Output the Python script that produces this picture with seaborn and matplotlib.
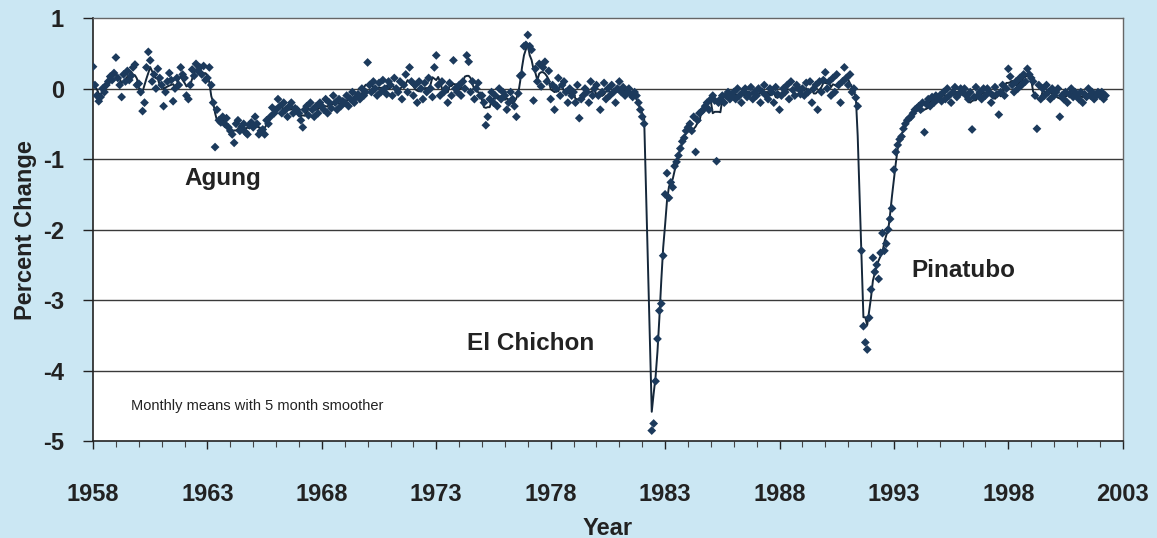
import numpy as np
import pandas as pd
import matplotlib
matplotlib.use("Agg")
import matplotlib.pyplot as plt
import seaborn as sns
from matplotlib.ticker import MultipleLocator

nan = np.nan

# monthly means, percent change, one row per year (Jan..Dec)
pct_1958_1967 = [
    0.31, 0.05, -0.10, -0.18, -0.12, 0.00, -0.05, 0.05, 0.10, 0.17, 0.12, 0.22,
    0.44, 0.15, 0.05, -0.12, 0.20, 0.10, 0.25, 0.12, 0.18, 0.30, 0.34, 0.05,
    0.07, -0.05, -0.32, -0.20, 0.30, 0.52, 0.40, 0.10, 0.20, 0.00, 0.28, 0.15,
    0.05, -0.25, -0.05, 0.10, 0.22, 0.12, -0.18, 0.00, 0.15, 0.05, 0.30, 0.20,
    0.15, -0.10, -0.15, 0.05, 0.27, 0.18, 0.35, 0.25, 0.30, 0.20, 0.32, 0.12,
    0.15, 0.30, 0.05, -0.20, -0.83, -0.30, -0.45, -0.48, -0.40, -0.50, -0.42, -0.55,
    -0.60, -0.65, -0.77, -0.50, -0.45, -0.60, -0.55, -0.50, -0.62, -0.65, -0.52, -0.48,
    -0.55, -0.40, -0.50, -0.65, -0.60, -0.58, -0.65, -0.45, -0.50, -0.40, -0.27, -0.35,
    -0.30, -0.15, -0.25, -0.35, -0.20, -0.30, -0.40, -0.25, -0.20, -0.35, -0.28, -0.30,
    -0.35, -0.45, -0.55, -0.30, -0.25, -0.38, -0.20, -0.30, -0.40, -0.25, -0.35, -0.20,
]
pct_1968_1977 = [
    -0.25, -0.30, -0.15, -0.35, -0.20, -0.28, -0.10, -0.20, -0.30, -0.15, -0.25, -0.18,
    -0.20, -0.10, -0.25, -0.15, -0.05, -0.20, -0.12, -0.08, -0.15, 0.00, -0.10, -0.05,
    0.37, 0.05, -0.05, 0.10, 0.00, -0.10, 0.08, -0.05, 0.12, 0.00, -0.08, 0.10,
    0.05, -0.10, 0.15, 0.00, -0.05, 0.10, -0.15, 0.05, 0.20, -0.05, 0.30, 0.10,
    -0.10, 0.05, -0.20, 0.10, 0.00, -0.15, 0.08, -0.05, 0.15, 0.00, -0.12, 0.30,
    0.47, 0.05, -0.10, 0.10, -0.05, 0.00, -0.20, 0.08, -0.10, 0.40, 0.00, -0.05,
    0.05, -0.10, 0.10, 0.00, 0.47, 0.38, -0.05, 0.10, -0.15, 0.00, 0.08, -0.10,
    -0.10, -0.20, -0.52, -0.40, -0.15, -0.05, -0.20, -0.10, -0.25, 0.00, -0.15, -0.05,
    -0.10, -0.30, -0.20, -0.05, -0.15, -0.25, -0.40, -0.07, 0.18, 0.20, 0.60, 0.62,
    0.76, 0.60, 0.55, -0.17, 0.28, 0.10, 0.35, 0.03, 0.30, 0.38, 0.10, 0.25,
]
pct_1978_1987 = [
    -0.15, 0.05, -0.30, 0.00, 0.15, -0.10, 0.05, 0.10, -0.05, -0.20, 0.00, -0.10,
    -0.05, -0.20, 0.05, -0.42, -0.15, -0.10, 0.00, -0.05, -0.20, 0.10, -0.10, 0.00,
    0.05, -0.10, -0.30, -0.05, 0.08, -0.15, 0.00, -0.10, 0.05, -0.05, -0.20, 0.00,
    0.10, -0.05, 0.02, -0.10, -0.05, 0.00, -0.08, -0.12, -0.05, -0.10, -0.20, -0.30,
    -0.40, -0.50, nan, nan, nan, -4.85, -4.75, -4.15, -3.55, -3.15, -3.05, -2.37,
    -1.50, -1.20, -1.55, -1.33, -1.40, -1.10, -1.04, -0.95, -0.85, -0.75, -0.70, -0.60,
    -0.55, -0.50, -0.60, -0.40, -0.90, -0.45, -0.35, -0.33, -0.30, -0.25, -0.20, -0.30,
    -0.15, -0.10, -0.17, -1.03, -0.20, -0.15, -0.10, -0.20, -0.10, -0.05, -0.15, -0.10,
    -0.05, -0.15, 0.00, -0.10, -0.20, -0.05, 0.00, -0.12, -0.08, 0.02, -0.15, -0.05,
    -0.10, 0.00, -0.20, -0.05, 0.05, -0.10, -0.15, 0.00, -0.05, -0.20, 0.02, -0.08,
]
pct_1988_1997 = [
    -0.30, -0.10, 0.00, -0.05, 0.05, -0.15, 0.10, -0.02, -0.10, 0.05, 0.00, -0.08,
    0.00, -0.10, 0.08, -0.05, 0.10, -0.20, 0.00, 0.05, -0.30, 0.10, -0.05, 0.12,
    0.23, 0.00, 0.10, -0.10, 0.15, -0.05, 0.20, 0.05, -0.20, 0.10, 0.30, 0.15,
    0.05, 0.20, -0.05, 0.00, -0.13, -0.25, nan, -2.30, -3.37, -3.60, -3.70, -3.25,
    -2.85, -2.40, -2.60, -2.50, -2.70, -2.33, -2.05, -2.30, -2.20, -2.00, -1.85, -1.70,
    -1.15, -0.90, -0.80, -0.72, -0.68, -0.57, -0.50, -0.45, -0.42, -0.40, -0.35, -0.30,
    -0.28, -0.25, -0.30, -0.20, -0.62, -0.22, -0.15, -0.25, -0.12, -0.20, -0.10, -0.15,
    -0.10, -0.18, -0.05, -0.15, 0.00, -0.10, -0.20, -0.05, 0.02, -0.12, -0.08, 0.00,
    -0.05, 0.00, -0.10, -0.15, -0.05, -0.58, -0.12, 0.02, -0.10, -0.05, -0.15, 0.00,
    -0.10, 0.00, -0.05, -0.20, -0.10, 0.02, -0.08, -0.37, -0.05, 0.05, -0.10, 0.00,
]
pct_1998_2002 = [
    0.28, 0.17, 0.05, -0.05, 0.10, 0.00, 0.15, 0.05, 0.20, 0.10, 0.28, 0.20,
    0.15, 0.10, -0.10, -0.57, 0.05, -0.15, 0.00, -0.10, 0.05, -0.05, -0.15, 0.00,
    -0.10, -0.05, 0.00, -0.40, -0.10, -0.15, -0.05, -0.20, -0.08, 0.00, -0.12, -0.05,
    -0.10, -0.15, -0.05, -0.20, -0.08, -0.12, 0.00, -0.10, -0.05, -0.15, -0.10, -0.05,
    -0.10, -0.05, -0.15, -0.10,
]

start_year = 1958
year_ticks = list(range(1958, 2004, 5))
y_ticks = list(range(-5, 2))

pct = pct_1958_1967 + pct_1968_1977 + pct_1978_1987 + pct_1988_1997 + pct_1998_2002
df = pd.DataFrame({"pct": pct})
df["year"] = start_year + np.arange(len(df)) / 12
# 5 month running mean
df["smooth"] = df["pct"].rolling(5, center=True, min_periods=3).mean().where(df["pct"].notna())

sns.set_theme(style="ticks")
plt.rcParams["font.family"] = ["Liberation Sans", "DejaVu Sans"]
plt.rcParams["axes.unicode_minus"] = False

fig = plt.figure(figsize=(11.57, 5.38), dpi=100)
fig.patch.set_facecolor("#cbe7f3")
ax = fig.add_axes([0.0804, 0.180, 0.890, 0.7865])
ax.set_facecolor("white")

for v in range(-4, 1):
    ax.axhline(v, color="#3a3a3a", lw=1.0, zorder=1)

sns.lineplot(data=df.dropna(subset=["smooth"]), x="year", y="smooth",
             color="#15273a", lw=1.4, ax=ax, zorder=3)
sns.scatterplot(data=df, x="year", y="pct", marker="D", s=20,
                color="#1c3a5c", edgecolor="none", ax=ax, zorder=4)

ax.set_xlim(1958, 2003)
ax.set_ylim(-5, 1)
ax.set_xticks(year_ticks)
ax.set_yticks(y_ticks)
ax.xaxis.set_minor_locator(MultipleLocator(1))
ax.tick_params(axis="x", which="major", direction="out", length=6, width=1,
               labelsize=17, pad=24, colors="#222222")
ax.tick_params(axis="x", which="minor", direction="out", length=4, width=0.8,
               colors="#444444")
ax.tick_params(axis="y", direction="out", length=7, width=1,
               labelsize=17, pad=14, colors="#222222")
for lab in ax.get_xticklabels() + ax.get_yticklabels():
    lab.set_fontweight("bold")

for side in ["left", "bottom"]:
    ax.spines[side].set_color("#222222")
    ax.spines[side].set_linewidth(1.2)
for side in ["top", "right"]:
    ax.spines[side].set_color("#666666")
    ax.spines[side].set_linewidth(1.0)

ax.set_xlabel("Year", fontsize=17, fontweight="bold", labelpad=8, color="#222222")
ax.set_ylabel("Percent Change", fontsize=17, fontweight="bold", labelpad=4, color="#222222")

ax.text(1962.0, -1.28, "Agung", fontsize=17.5, fontweight="bold", va="center", color="#222222")
ax.text(1974.33, -3.62, "El Chichon", fontsize=17.5, fontweight="bold", va="center", color="#222222")
ax.text(1993.76, -2.58, "Pinatubo", fontsize=17.5, fontweight="bold", va="center", color="#222222")
ax.text(1959.66, -4.5, "Monthly means with 5 month smoother", fontsize=10.5,
        va="center", color="#222222")

fig.savefig("out.png", dpi=100, facecolor=fig.get_facecolor())
